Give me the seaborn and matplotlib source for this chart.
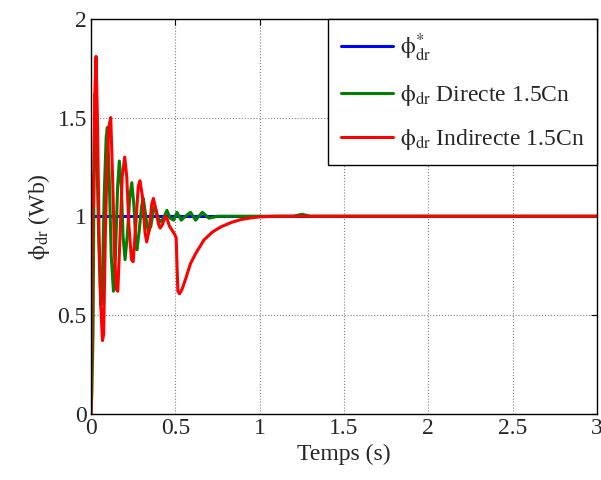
import numpy as np
import pandas as pd
import matplotlib
matplotlib.use("Agg")
import matplotlib.pyplot as plt
import seaborn as sns

# Reference flux (constant)
t_ref = [0.0, 3.0]
phi_ref = [1.0, 1.0]

# Direct control, 1.5Cn
t_dir = [0.0, 0.005, 0.012, 0.018, 0.024, 0.032, 0.045, 0.058, 0.066, 0.078,
         0.09, 0.097, 0.108, 0.12, 0.133, 0.145, 0.158, 0.168, 0.18, 0.19,
         0.202, 0.215, 0.23, 0.242, 0.255, 0.265, 0.272, 0.285, 0.3, 0.31,
         0.325, 0.34, 0.355, 0.37, 0.38, 0.395, 0.41, 0.43, 0.45, 0.47,
         0.49, 0.51, 0.535, 0.56, 0.59, 0.62, 0.66, 0.7, 0.75, 0.85,
         1.2, 1.25, 1.3, 3.0]
phi_dir = [0.0, 0.1, 0.4, 1.2, 1.62, 1.45, 0.9, 0.55, 0.6, 1.1,
           1.4, 1.45, 1.2, 0.8, 0.62, 0.8, 1.15, 1.28, 1.15, 0.9,
           0.78, 0.9, 1.1, 1.17, 1.05, 0.88, 0.83, 0.92, 1.05, 1.09,
           1.0, 0.92, 0.95, 1.03, 1.05, 1.0, 0.97, 0.99, 1.03, 0.99,
           0.98, 1.02, 0.98, 1.0, 1.02, 0.98, 1.02, 0.99, 1.0, 1.0,
           1.0, 1.01, 1.0, 1.0]

# Indirect control, 1.5Cn
t_ind = [0.0, 0.005, 0.01, 0.015, 0.022, 0.03, 0.038, 0.048, 0.058, 0.068,
         0.075, 0.085, 0.095, 0.105, 0.117, 0.128, 0.14, 0.15, 0.159, 0.17,
         0.185, 0.2, 0.212, 0.225, 0.24, 0.25, 0.265, 0.28, 0.29, 0.305,
         0.32, 0.33, 0.345, 0.36, 0.37, 0.385, 0.4, 0.41, 0.425, 0.44,
         0.45, 0.465, 0.48, 0.495, 0.505, 0.51, 0.515, 0.525, 0.54, 0.56,
         0.59, 0.62, 0.67, 0.72, 0.77, 0.83, 0.887, 0.95, 1.0, 1.1, 3.0]
phi_ind = [0.0, 0.66, 1.2, 1.05, 1.6, 1.81, 1.5, 0.9, 0.55, 0.37,
           0.4, 0.9, 1.25, 1.45, 1.5, 1.2, 0.8, 0.63, 0.62, 0.85,
           1.2, 1.3, 1.2, 0.95, 0.78, 0.77, 0.95, 1.15, 1.18, 1.1,
           0.92, 0.87, 0.93, 1.06, 1.09, 1.03, 0.96, 0.94, 0.96, 1.0,
           0.99, 0.95, 0.93, 0.91, 0.89, 0.75, 0.62, 0.607, 0.63, 0.68,
           0.76, 0.81, 0.88, 0.92, 0.946, 0.968, 0.983, 0.992, 0.997, 1.0, 1.0]

labels = [r'$\mathrm{\phi}^{*}_{\mathrm{dr}}$',
          r'$\mathrm{\phi}_{\mathrm{dr}}$ Directe 1.5Cn',
          r'$\mathrm{\phi}_{\mathrm{dr}}$ Indirecte 1.5Cn']

sns.set_style("white")
plt.rcParams['font.family'] = ['Liberation Serif', 'DejaVu Serif']
plt.rcParams['mathtext.fontset'] = 'stix'

fig = plt.figure(figsize=(6.01, 4.8), dpi=100)
ax = fig.add_axes([0.1514, 0.1385, 0.842, 0.822])

sns.lineplot(x=t_ref, y=phi_ref, ax=ax, color='#0000ff', lw=2.2, label=labels[0])
sns.lineplot(x=t_dir, y=phi_dir, ax=ax, color='#008000', lw=2.2, label=labels[1])
sns.lineplot(x=t_ind, y=phi_ind, ax=ax, color='#ff0000', lw=2.2, label=labels[2])

ax.set_xlim(0, 3)
ax.set_ylim(0, 2)
ax.set_xticks([0, 0.5, 1, 1.5, 2, 2.5, 3])
ax.set_xticklabels(['0', '0.5', '1', '1.5', '2', '2.5', '3'])
ax.set_yticks([0, 0.5, 1, 1.5, 2])
ax.set_yticklabels(['0', '0.5', '1', '1.5', '2'])
ax.grid(True, color='#7f7f7f', linestyle=':', linewidth=0.8)
ax.tick_params(direction='in', top=True, right=True, length=4, labelsize=17,
               color='black', width=0.8, pad=3)
for s in ax.spines.values():
    s.set_color('black')
    s.set_linewidth(1.0)

ax.set_xlabel('Temps (s)', fontsize=17, labelpad=4)
ax.set_ylabel(r'$\mathrm{\phi}_{\mathrm{dr}}$ (Wb)', fontsize=17, labelpad=4)

leg = ax.legend(loc='upper right', borderaxespad=0, fontsize=17, handlelength=2.2,
                handletextpad=0.3, fancybox=False, framealpha=1, edgecolor='black',
                labelspacing=0.8, borderpad=0.55)
leg.get_frame().set_linewidth(1.0)

fig.savefig('out.png', dpi=100)
